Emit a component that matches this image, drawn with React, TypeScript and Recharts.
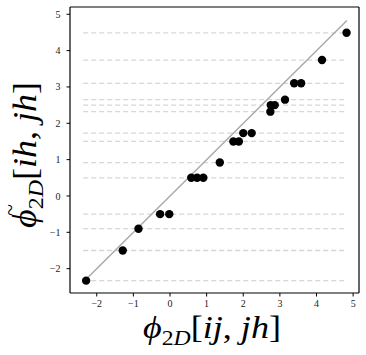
import React from "react";
import {
  ComposedChart,
  Scatter,
  XAxis,
  YAxis,
  ReferenceLine,
} from "recharts";

// estimated values
const xVals = [-2.29, -1.29, -0.86, -0.27, -0.02, 0.58, 0.74, 0.91, 1.36, 1.73, 1.88, 2.0, 2.23, 2.74, 2.75, 2.86, 3.14, 3.39, 3.58, 4.15, 4.82];
const yVals = [-2.33, -1.5, -0.9, -0.5, -0.5, 0.5, 0.5, 0.5, 0.92, 1.5, 1.5, 1.73, 1.73, 2.32, 2.5, 2.5, 2.65, 3.1, 3.1, 3.74, 4.49];
const levels = [4.49, 3.74, 3.1, 2.65, 2.5, 2.32, 1.73, 1.5, 0.92, 0.5, -0.5, -0.9, -1.5, -2.33];
const levelRange = [-2.37, 4.78];
const diagRange = [-2.27, 4.83];
const xTicks = [-2, -1, 0, 1, 2, 3, 4, 5];
const yTicks = [-2, -1, 0, 1, 2, 3, 4, 5];

const points = xVals.map((x, i) => ({ x, y: yVals[i] }));
const fmt = (v: number) => (v < 0 ? `\u2212${Math.abs(v)}` : `${v}`);
const tickStyle = { fill: "#222", fontSize: 10, fontFamily: "Liberation Serif, serif" };
const labelFont = "Liberation Serif, DejaVu Serif, serif";

const XLabel = () => (
  <text x={212} y={338} textAnchor="middle" fontFamily={labelFont} fontSize={32} fill="#000"
    textLength={138} lengthAdjust="spacingAndGlyphs">
    <tspan fontStyle="italic">ϕ</tspan>
    <tspan fontSize={21} dy={7}>2</tspan>
    <tspan fontSize={21} fontStyle="italic">D</tspan>
    <tspan dy={-7}>[</tspan>
    <tspan fontStyle="italic">ij</tspan>
    <tspan>, </tspan>
    <tspan fontStyle="italic">jh</tspan>
    <tspan>]</tspan>
  </text>
);

const YLabel = () => (
  <g transform="translate(36,155) rotate(-90)">
    <text x={0} y={0} textAnchor="middle" fontFamily={labelFont} fontSize={33} fill="#000"
      textLength={146} lengthAdjust="spacingAndGlyphs">
      <tspan fontStyle="italic">ϕ</tspan>
      <tspan fontSize={22} dy={7}>2</tspan>
      <tspan fontSize={22} fontStyle="italic">D</tspan>
      <tspan dy={-7}>[</tspan>
      <tspan fontStyle="italic">ih</tspan>
      <tspan>, </tspan>
      <tspan fontStyle="italic">jh</tspan>
      <tspan>]</tspan>
    </text>
    <text x={-55} y={-19} textAnchor="middle" fontFamily={labelFont} fontSize={22} fill="#000">~</text>
  </g>
);

export default function App() {
  return (
    <div style={{ position: "absolute", left: 0, top: 0, width: 366, height: 355, background: "#fff" }}>
      <ComposedChart
        width={366}
        height={355}
        data={points}
        margin={{ top: 6, right: 6, bottom: 61, left: 69 }}
      >
        <XAxis
          dataKey="x"
          type="number"
          domain={[-2.73, 5.16]}
          ticks={xTicks}
          tickFormatter={fmt}
          tick={tickStyle}
          tickSize={3.5}
          tickMargin={3}
          height={1}
          axisLine={{ stroke: "#000", strokeWidth: 1.2 }}
          tickLine={{ stroke: "#000" }}
          allowDataOverflow
        />
        <XAxis xAxisId="top" orientation="top" type="number" domain={[-2.73, 5.16]} tick={false} tickLine={false} height={1} axisLine={{ stroke: "#000", strokeWidth: 1.2 }} />
        <YAxis
          dataKey="y"
          type="number"
          domain={[-2.67, 5.2]}
          ticks={yTicks}
          tickFormatter={fmt}
          tick={tickStyle}
          tickSize={3.5}
          tickMargin={6}
          width={1}
          axisLine={{ stroke: "#000", strokeWidth: 1.2 }}
          tickLine={{ stroke: "#000" }}
          allowDataOverflow
        />
        <YAxis yAxisId="right" orientation="right" type="number" domain={[-2.67, 5.2]} tick={false} tickLine={false} width={1} axisLine={{ stroke: "#000", strokeWidth: 1.2 }} />
        {levels.map((v, i) => (
          <ReferenceLine
            key={i}
            segment={[{ x: levelRange[0], y: v }, { x: levelRange[1], y: v }]}
            stroke="#d6d6d6"
            strokeWidth={1.3}
            strokeDasharray="5 3"
          />
        ))}
        <ReferenceLine
          segment={[{ x: diagRange[0], y: diagRange[0] }, { x: diagRange[1], y: diagRange[1] }]}
          stroke="#a8a8a8"
          strokeWidth={1.4}
        />
        <Scatter
          data={points}
          dataKey="y"
          fill="#000"
          isAnimationActive={false}
          shape={(p: any) => <circle cx={p.cx} cy={p.cy} r={4.2} fill="#000" />}
        />
      </ComposedChart>
      <svg width={366} height={355} style={{ position: "absolute", left: 0, top: 0, pointerEvents: "none" }}>
        <XLabel />
        <YLabel />
      </svg>
    </div>
  );
}
